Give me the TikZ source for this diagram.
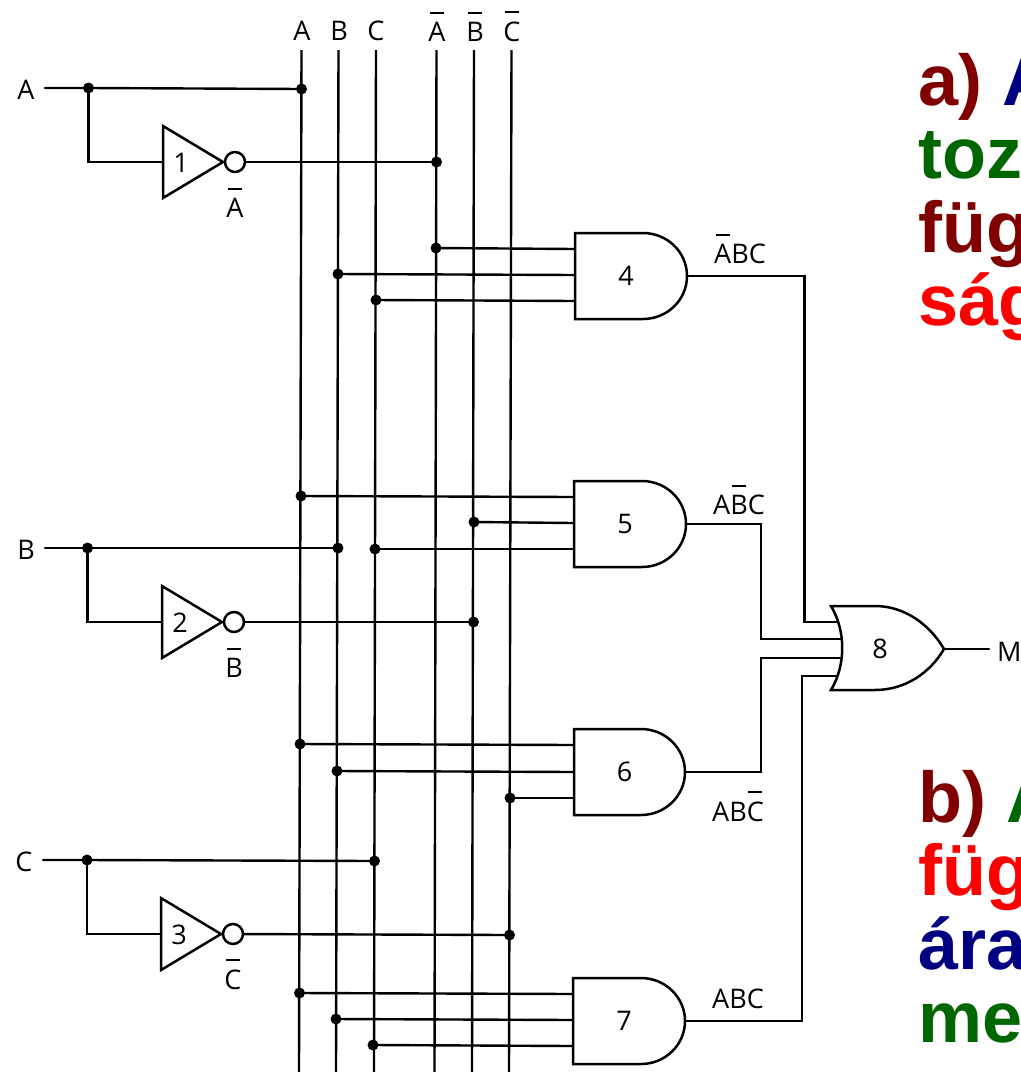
\documentclass[tikz,border=0pt]{standalone}
\usepackage{fontspec}
\setmainfont{Open Sans}
\newfontfamily\headfont{Liberation Sans}[BoldFont={Liberation Sans Bold}]
\definecolor{cdred}{HTML}{800000}
\definecolor{cnavy}{HTML}{000080}
\definecolor{cgreen}{HTML}{006600}
\definecolor{cred}{HTML}{FF0000}
\newcommand\barred[1]{\vbox{\offinterlineskip\halign{\hfil##\hfil\cr\vrule width 14pt height 2pt\cr\noalign{\kern8pt}#1\cr}}}
\tikzset{
  wire/.style={line width=2.4pt,line cap=round,line join=miter},
  gateline/.style={line width=2.5pt,line join=miter},
  lab/.style={inner sep=0pt,font=\fontsize{27}{27}\selectfont},
  head/.style={inner sep=0pt,anchor=base west,font=\headfont\bfseries\fontsize{72}{72}\selectfont},
  junction/.style={circle,fill=black,inner sep=0pt,minimum size=11pt},
  bubble/.style={circle,draw,line width=2.5pt,fill=white,inner sep=0pt,minimum size=20pt}
}
% \andgate{name}{left x}{top y}{tip x}{label}
\newcommand\andgate[5]{%
  \draw[gateline,fill=white] (#2,#3) -- ({#4-44},#3) arc[start angle=-90,end angle=90,x radius=44,y radius=43] -- (#2,#3+86) -- cycle;
  \node[lab] (#1) at ({(#2+#4)/2-5},#3+43) {#5};
  \coordinate (#1out) at (#4,#3+43);
}
% \invgate{name}{left x}{centre y}{label}
\newcommand\invgate[4]{%
  \draw[gateline,fill=white] (#2,#3-36) -- (#2+60,#3) -- (#2,#3+36) -- cycle;
  \node[lab] (#1) at (#2+18,#3+1) {#4};
  \node[bubble] (#1b) at (#2+72,#3) {};
  \coordinate (#1in) at (#2,#3);
}
\begin{document}
\begin{tikzpicture}[x=1pt,y=-1pt]
\useasboundingbox (0,0) rectangle (1021,1072);
\clip (0,0) rectangle (1021,1072);
\fill[white] (0,0) rectangle (1021,1072);
% bus ends
\coordinate (tA) at (301.5,50); \coordinate (bA) at (299,1072);
\coordinate (tB) at (338.5,50); \coordinate (bB) at (336,1072);
\coordinate (tC) at (376,50);   \coordinate (bC) at (374,1072);
\coordinate (tNA) at (436.5,50); \coordinate (bNA) at (434.5,1072);
\coordinate (tNB) at (474,50);   \coordinate (bNB) at (472,1072);
\coordinate (tNC) at (511.5,50); \coordinate (bNC) at (509,1072);
\foreach \n in {A,B,C,NA,NB,NC} \draw[wire,line cap=butt] (t\n) -- (b\n);
% top labels
\node[lab] (lA) at (302,31) {A};
\node[lab] (lB) at (339,31) {B};
\node[lab] (lC) at (376,31) {C};
\node[lab,anchor=base] (lNA) at (437,41) {\barred{A}};
\node[lab,anchor=base] (lNB) at (475,41) {\barred{B}};
\node[lab,anchor=base] (lNC) at (512,41) {\barred{C}};
% inverters
\invgate{i1}{163}{162}{1}
\invgate{i2}{162}{622}{2}
\invgate{i3}{161}{934}{3}
\node[lab,anchor=base] (nA) at (235,217) {\barred{A}};
\node[lab,anchor=base] (nB) at (234,677) {\barred{B}};
\node[lab,anchor=base] (nC) at (233,989) {\barred{C}};
% inputs
\node[lab] (inA) at (26,90) {A};
\node[lab] (inB) at (26,550) {B};
\node[lab] (inC) at (24,862) {C};
\coordinate (sA) at (45,88);  \node[junction] (jA) at (88.5,88) {};
\coordinate (sB) at (45,548); \node[junction] (jB) at (87.5,548) {};
\coordinate (sC) at (43,860); \node[junction] (jC) at (87,860) {};
\node[junction] (dA1) at (301.5,89) {};
\node[junction] (dNA1) at (436.5,162) {};
\node[junction] (dB1) at (338,548) {};
\node[junction] (dC1) at (375,549) {};
\node[junction] (dNB1) at (473.5,622) {};
\node[junction] (dC2) at (374.5,861) {};
\node[junction] (dNC1) at (509.5,935) {};
\draw[wire] (sA) -- (jA.center) -- (dA1.center);
\draw[wire] (jA.center) |- (i1in);
\draw[wire] (i1b) -- (dNA1.center);
\draw[wire] (sB) -- (jB.center) -- (dB1.center);
\draw[wire] (jB.center) |- (i2in);
\draw[wire] (i2b) -- (dNB1.center);
\draw[wire] (sC) -- (jC.center) -- (dC2.center);
\draw[wire] (jC.center) |- (i3in);
\draw[wire] (i3b) -- (dNC1.center);
% gate input junctions
\node[junction] (g4a) at (436,248) {};
\node[junction] (g4b) at (338,274) {};
\node[junction] (g4c) at (376,300) {};
\node[junction] (g5a) at (301,496) {};
\node[junction] (g5b) at (474,522) {};
\node[junction] (g6a) at (300,744) {};
\node[junction] (g6b) at (337,771) {};
\node[junction] (g6c) at (510,798) {};
\node[junction] (g7a) at (299.5,993) {};
\node[junction] (g7b) at (336,1019) {};
\node[junction] (g7c) at (373,1045) {};
\coordinate (p4a) at (575,249); \coordinate (p4b) at (575,275); \coordinate (p4c) at (575,301);
\coordinate (p5a) at (574,497); \coordinate (p5b) at (574,523); \coordinate (p5c) at (574,549);
\coordinate (p6a) at (574,745); \coordinate (p6b) at (574,772); \coordinate (p6c) at (574,798);
\coordinate (p7a) at (573,994); \coordinate (p7b) at (573,1020); \coordinate (p7c) at (573,1046);
\draw[wire] (g4a.center) -- (p4a); \draw[wire] (g4b.center) -- (p4b); \draw[wire] (g4c.center) -- (p4c);
\draw[wire] (g5a.center) -- (p5a); \draw[wire] (g5b.center) -- (p5b); \draw[wire] (dC1.center) -- (p5c);
\draw[wire] (g6a.center) -- (p6a); \draw[wire] (g6b.center) -- (p6b); \draw[wire] (g6c.center) -- (p6c);
\draw[wire] (g7a.center) -- (p7a); \draw[wire] (g7b.center) -- (p7b); \draw[wire] (g7c.center) -- (p7c);
% and gates
\andgate{g4}{575}{233}{687}{4}
\andgate{g5}{574}{481}{686}{5}
\andgate{g6}{574}{729}{685}{6}
\andgate{g7}{573}{978}{685}{7}
% or gate inputs
\coordinate (o1) at (838,622); \coordinate (o2) at (843,639); \coordinate (o3) at (843,658); \coordinate (o4) at (838,676);
\draw[wire,line cap=butt] (g4out) -- (804.5,276) -- (804.5,622) -- (o1);
\draw[wire,line cap=butt] (g5out) -- (761,524) -- (761,639) -- (o2);
\draw[wire,line cap=butt] (g6out) -- (761,772) -- (761,658) -- (o3);
\draw[wire,line cap=butt] (g7out) -- (802,1021) -- (802,676) -- (o4);
% or gate
\draw[gateline,fill=white] (831,606) -- (875,606)
  .. controls (905,606) and (930,625) .. (944,649)
  .. controls (930,673) and (905,690) .. (875,690)
  -- (831,690)
  .. controls (846,665) and (846,631) .. (831,606) -- cycle;
\node[lab] (g8) at (880,649) {8};
\coordinate (g8out) at (944,649);
\coordinate (mend) at (989,649);
\draw[wire] (g8out) -- (mend);
\node[lab,anchor=base west] (M) at (997,661) {M};
% output labels
\node[lab,anchor=base] (l4) at (740,263) {\barred{A}BC};
\node[lab,anchor=base] (l5) at (739,514) {A\barred{B}C};
\node[lab,anchor=base] (l6) at (738,821) {AB\barred{C}};
\node[lab,anchor=base] (l7) at (738,1008) {ABC};
% text
\node[head,text=cdred] (ta) at (918,105) {a) \textcolor{cnavy}{A}};
\node[head,text=cgreen] (tb) at (918,178) {toz};
\node[head,text=cdred] (tc) at (918,252) {füg};
\node[head,text=cred] (td) at (918,325) {ság};
\node[head,text=cdred] (te) at (918,822) {b) \textcolor{cgreen}{A}};
\node[head,text=cred] (tf) at (918,895) {füg};
\node[head,text=cnavy] (tg) at (918,969) {ára};
\node[head,text=cgreen] (th) at (918,1042) {me};
\end{tikzpicture}
\end{document}
